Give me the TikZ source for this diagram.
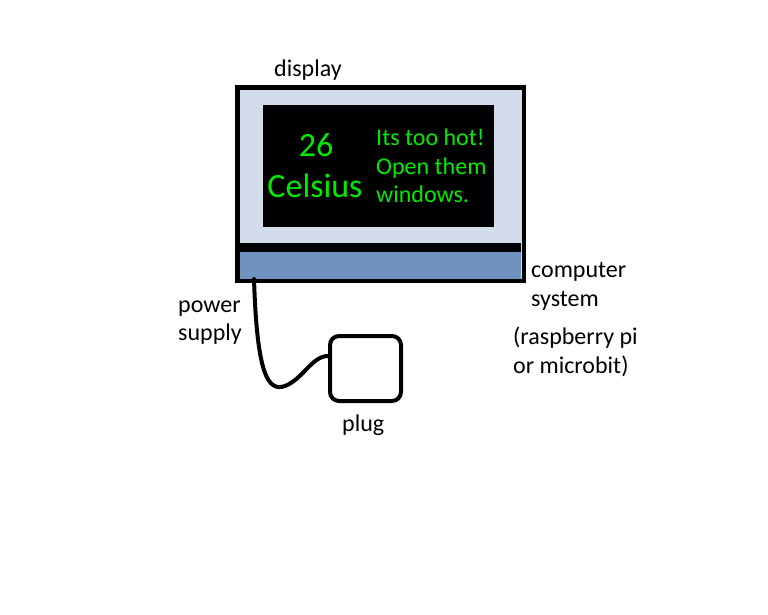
\documentclass[tikz,border=0pt]{standalone}
\usepackage{fontspec}
\setmainfont{Carlito}
\definecolor{framefill}{RGB}{211,220,235}
\definecolor{barblue}{RGB}{112,146,190}
\definecolor{lcdgreen}{RGB}{0,235,0}
\begin{document}
\begin{tikzpicture}[x=1pt,y=-1pt,
  lbl/.style={inner sep=0pt,anchor=base west,font=\fontsize{24}{29}\selectfont},
  lcd/.style={inner sep=0pt,anchor=base west,text=lcdgreen,font=\fontsize{24}{29}\selectfont},
  lcdbig/.style={inner sep=0pt,anchor=base,text=lcdgreen,font=\fontsize{34}{41}\selectfont},
  box/.style={draw=black,line width=4.5pt,inner sep=0pt,outer sep=0pt}]
\useasboundingbox[fill=white] (0,0) rectangle (768,614);
% display frame
\node[box,fill=framefill,minimum width=286.5pt,minimum height=193.5pt] (frame) at (380.5,184) {};
% divider and computer bar
\fill[black] (240,243) rectangle (521,252);
\node[fill=barblue,inner sep=0pt,minimum width=281pt,minimum height=27pt] (bar) at (380.5,265.5) {};
% screen
\node[fill=black,inner sep=0pt,minimum width=231pt,minimum height=122pt] (screen) at (378.5,166) {};
\node[lcdbig] (t26) at (316,156) {26};
\node[lcdbig] (tcel) at (315,197) {Celsius};
\node[lcd] (m1) at (376,145) {Its too hot!};
\node[lcd] (m2) at (376,174) {Open them};
\node[lcd] (m3) at (376,202) {windows.};
% plug
\node[draw=black,line width=4pt,rounded corners=9pt,inner sep=0pt,minimum width=71pt,minimum height=65pt] (plug) at (365.5,368.5) {};
% cable
\coordinate (cableA) at (254,279);
\coordinate (cableB) at ([yshift=12.5pt]plug.west);
\draw[line width=4pt,line cap=round] (cableA) .. controls (257,375) and (268,392) .. (285,386)
  .. controls (303,379) and (312,356) .. (cableB);
% labels
\node[lbl] (ldisplay) at (274,76) {display};
\node[lbl] (lcomp1) at (531,277) {computer};
\node[lbl] (lcomp2) at (531,306) {system};
\node[lbl] (lrasp1) at (513,344) {(raspberry pi};
\node[lbl] (lrasp2) at (513,373) {or microbit)};
\node[lbl] (lpow1) at (178,312) {power};
\node[lbl] (lpow2) at (178,340) {supply};
\node[lbl] (lplug) at (342,431) {plug};
\end{tikzpicture}
\end{document}
